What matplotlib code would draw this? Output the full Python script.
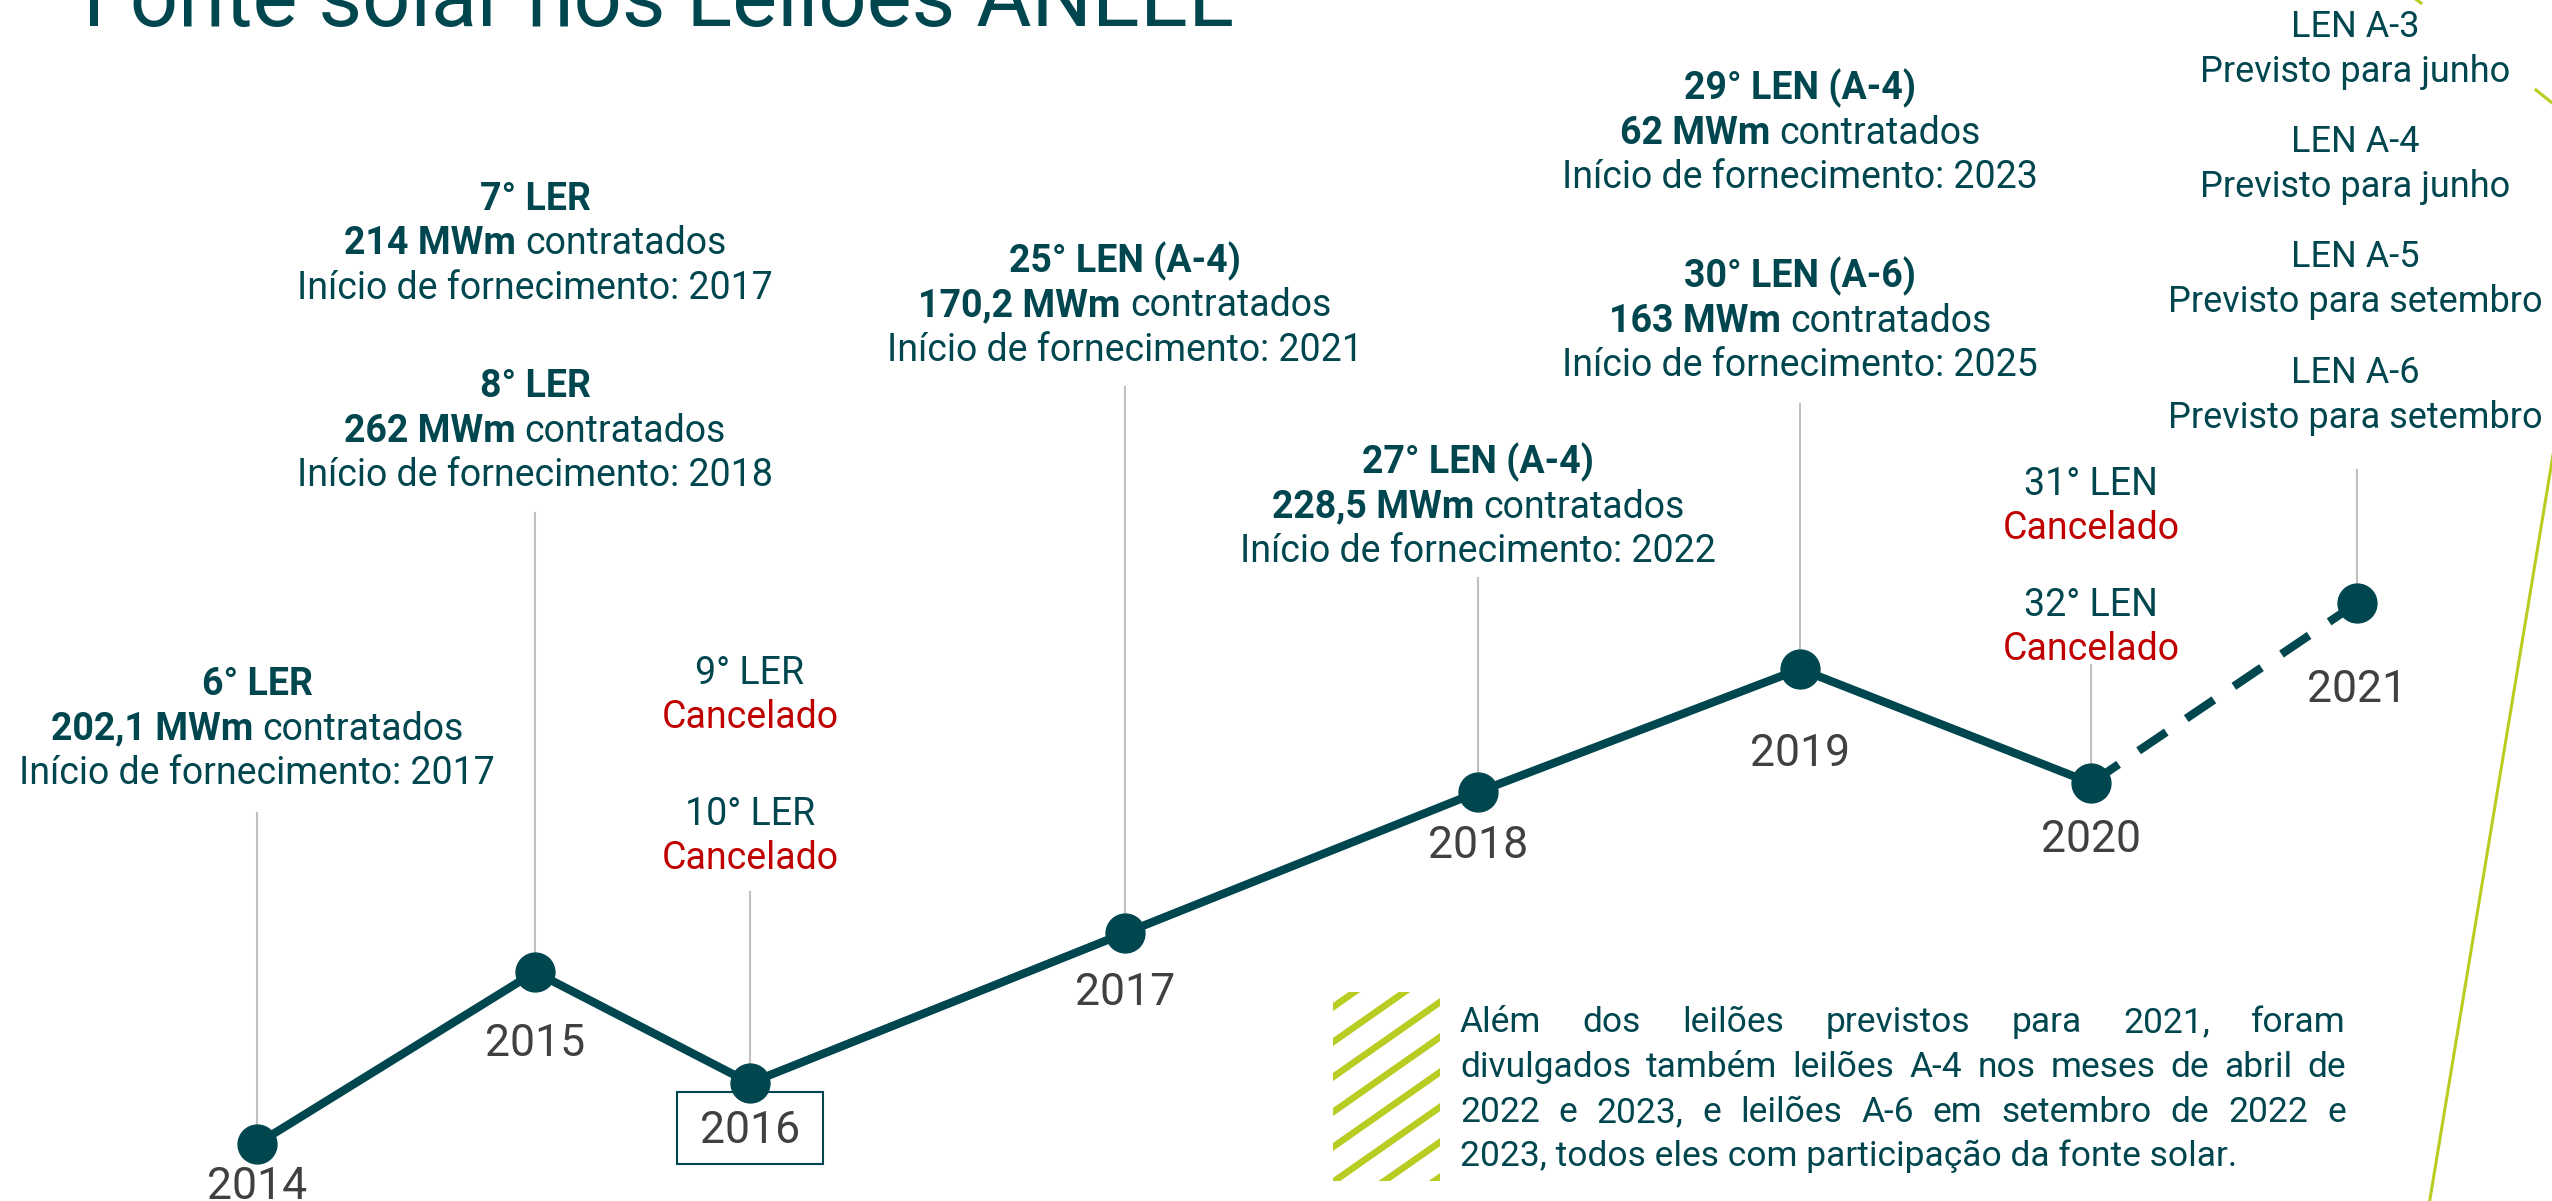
import matplotlib
matplotlib.use("Agg")
import matplotlib.pyplot as plt
from matplotlib.patches import Rectangle

plt.rcParams['font.family'] = ['Roboto', 'DejaVu Sans']

TEAL = '#00464F'
GREY_TXT = '#404040'
GREY_LINE = '#C0C0C0'
RED = '#C00000'
LIME = '#B8CC22'

# timeline points (x = horizontal place on the timeline, level = vertical place, both)
years = [2014, 2015, 2016, 2017, 2018, 2019, 2020, 2021]
x_pos = [257, 535, 750, 1125, 1478, 1800, 2091, 2357]
level = [1144, 972, 1083, 933, 792, 669, 783, 603]

# auctions with solar contracted
contracted_year = [2014, 2015, 2015, 2017, 2018, 2019, 2019]
contracted_name = ['6° LER', '7° LER', '8° LER', '25° LEN (A-4)', '27° LEN (A-4)', '29° LEN (A-4)', '30° LEN (A-6)']
contracted_mwm = ['202,1', '214', '262', '170,2', '228,5', '62', '163']
contracted_start = [2017, 2017, 2018, 2021, 2022, 2023, 2025]

# cancelled auctions
cancelled_year = [2016, 2016, 2020, 2020]
cancelled_name = ['9° LER', '10° LER', '31° LEN', '32° LEN']

# planned auctions for 2021
planned_name = ['LEN A-3', 'LEN A-4', 'LEN A-5', 'LEN A-6']
planned_month = ['junho', 'junho', 'setembro', 'setembro']

note_lines = [
    'Além dos leilões previstos para 2021, foram',
    'divulgados também leilões A-4 nos meses de abril de',
    '2022 e 2023, e leilões A-6 em setembro de 2022 e',
    '2023, todos eles com participação da fonte solar.',
]

# layout (pixel-like units, y grows downwards)
contracted_top = [695, 210, 397, 272, 473, 99, 287]
cancelled_top = [684, 825, 495, 616]
planned_top = [37, 152, 267, 383]
stem_top = [813, 513, 892, 387, 578, 404, 665, 470]
year_label_y = [1199, 1056, 1143, 1005, 858, 766, 852, 702]
LINE = 44.5

fig = plt.figure(figsize=(25.52, 12.01), dpi=100)
ax = fig.add_axes([0, 0, 1, 1])
ax.set_xlim(0, 2552)
ax.set_ylim(1201, 0)
ax.axis('off')
renderer = fig.canvas.get_renderer()


def text_width(s, **kw):
    t = ax.text(0, 0, s, **kw)
    w = t.get_window_extent(renderer).width
    t.remove()
    return w


def mixed_line(x, y, parts, size):
    sp = text_width('x x', fontsize=size) - text_width('xx', fontsize=size)
    widths = [text_width(s, fontsize=size, fontweight=w) for s, w in parts]
    cur = x - (sum(widths) + sp * (len(parts) - 1)) / 2
    for (s, w), wd in zip(parts, widths):
        ax.text(cur, y, s, fontsize=size, fontweight=w, color=TEAL, ha='left', va='baseline')
        cur += wd + sp


xmap = dict(zip(years, x_pos))

# title (cut by the top edge, as in the slide)
ax.text(83, 26, 'Fonte solar nos Leilões ANEEL', fontsize=61, fontweight='normal',
        color=TEAL, ha='left', va='baseline')

# grey stems
for x, y, top in zip(x_pos, level, stem_top):
    ax.plot([x, x], [top, y], color=GREY_LINE, lw=1.5, zorder=1)

# timeline
ax.plot(x_pos[:-1], level[:-1], color=TEAL, lw=6, zorder=2, solid_capstyle='round')
ax.plot(x_pos[-2:], level[-2:], color=TEAL, lw=6, zorder=2, linestyle=(0, (4.0, 2.9)),
        dash_capstyle='butt')
ax.plot(x_pos, level, 'o', color=TEAL, ms=28, zorder=3)

# year labels
for yr, x, ly in zip(years, x_pos, year_label_y):
    ax.text(x, ly, str(yr), fontsize=32, color=GREY_TXT, ha='center', va='baseline', zorder=4)
i16 = years.index(2016)
ax.add_patch(Rectangle((x_pos[i16] - 73, year_label_y[i16] - 51), 146, 72, fill=False,
                       ec=TEAL, lw=1.5, zorder=4))

# contracted auctions
for yr, name, mwm, start, top in zip(contracted_year, contracted_name, contracted_mwm,
                                     contracted_start, contracted_top):
    x = xmap[yr]
    ax.text(x, top, name, fontsize=27, fontweight='bold', color=TEAL, ha='center', va='baseline')
    mixed_line(x, top + LINE, [(mwm + ' MWm', 'bold'), ('contratados', 'normal')], 27)
    ax.text(x, top + 2 * LINE, 'Início de fornecimento: %d' % start, fontsize=27,
            color=TEAL, ha='center', va='baseline')

# cancelled auctions
for yr, name, top in zip(cancelled_year, cancelled_name, cancelled_top):
    x = xmap[yr]
    ax.text(x, top, name, fontsize=27, color=TEAL, ha='center', va='baseline')
    ax.text(x, top + 44, 'Cancelado', fontsize=27, color=RED, ha='center', va='baseline')

# planned auctions 2021
x21 = xmap[2021]
for name, month, top in zip(planned_name, planned_month, planned_top):
    ax.text(x21 - 2, top, name, fontsize=26, color=TEAL, ha='center', va='baseline', zorder=6)
    ax.text(x21 - 2, top + 45, 'Previsto para ' + month, fontsize=26, color=TEAL,
            ha='center', va='baseline', zorder=6)

# decorative lime lines on the right
ax.plot([2414, 2421], [-2, 3], color=LIME, lw=2.2)
ax.plot([2536, 2556], [90, 106], color=LIME, lw=2.2)
ax.plot([2553, 2429], [455, 1205], color=LIME, lw=2.2)

# striped square next to the note
clip = Rectangle((1333, 992), 107, 189, fc='none', ec='none')
ax.add_patch(clip)
for c in range(937, 1300, 35):
    ln, = ax.plot([1320, 1460], [c + 0.70 * 13, c - 0.70 * 127], color=LIME, lw=4.8,
                  solid_capstyle='butt')
    ln.set_clip_path(clip)

# justified note
left, right = 1460, 2346
note_y = [1032, 1077, 1122, 1166]
for line, y in zip(note_lines[:-1], note_y[:-1]):
    words = line.split()
    widths = [text_width(w, fontsize=25.5) for w in words]
    gap = (right - left - sum(widths)) / (len(words) - 1)
    cur = left
    for w, wd in zip(words, widths):
        ax.text(cur, y, w, fontsize=25.5, color=TEAL, ha='left', va='baseline')
        cur += wd + gap
ax.text(left, note_y[-1], note_lines[-1], fontsize=25.5, color=TEAL, ha='left', va='baseline')

fig.savefig('out.png', dpi=100, facecolor='white')
